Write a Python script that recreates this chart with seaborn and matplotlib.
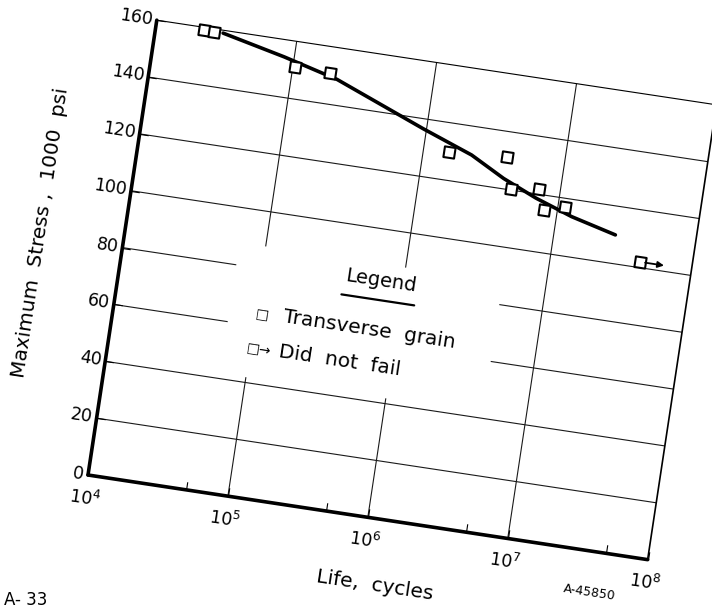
import numpy as np
import pandas as pd
import matplotlib
matplotlib.use("Agg")
import matplotlib.pyplot as plt
import matplotlib.transforms as mtransforms
from matplotlib.scale import LogTransform
from matplotlib.markers import MarkerStyle
import seaborn as sns
import mpl_toolkits.axisartist.floating_axes as floating_axes
from mpl_toolkits.axisartist.grid_finder import FixedLocator, DictFormatter

# ---------------- data ----------------
failed_life = [2.2e4, 2.6e4, 1.03e5, 1.84e5, 1.51e6, 3.9e6, 4.5e6, 7.1e6, 8.1e6, 1.12e7]
failed_stress = [159, 159, 151, 151, 130, 131, 120.5, 122, 115, 117]
runout_life = [4.3e7]
runout_stress = [102]
curve_life = [3.0e4, 8.5e4, 2.1e5, 9.5e5, 2.2e6, 3.9e6, 6.9e6, 1.28e7, 2.7e7]
curve_stress = [159, 154, 149, 136.5, 130, 123.6, 118.5, 114, 110]
x_major = [1e4, 1e5, 1e6, 1e7, 1e8]
x_minor = [5e4, 5e5, 5e6, 5e7]
x_labels = [r"$10^{4}$", r"$10^{5}$", r"$10^{6}$", r"$10^{7}$", r"$10^{8}$"]
y_ticks = [0, 20, 40, 60, 80, 100, 120, 140, 160]
y_labels = [str(v) for v in y_ticks]

# ---------------- style ----------------
sns.set_style("white")
plt.rcParams["font.family"] = ["DejaVu Sans"]
plt.rcParams["mathtext.fontset"] = "dejavusans"
for key in ["text.color", "axes.labelcolor", "xtick.color", "ytick.color"]:
    plt.rcParams[key] = "black"

W, H = 712, 611
ANGLE = -8.6                 # the scanned chart is tilted clockwise
PX_PER_DECADE = 141.5
PX_PER_UNIT = 460.0 / 160.0
ORIGIN = (88.0, 475.0)       # pixel position of (1e4, 0), image coords

# frame coordinates: decades of life (log10) and stress
x_major_dec = np.log10(x_major)
x_all_dec = np.sort(np.log10(x_major + x_minor))
tr_grid = (mtransforms.Affine2D().translate(-x_major_dec[0], 0)
           .scale(PX_PER_DECADE, PX_PER_UNIT).rotate_deg(ANGLE))
# data coordinates: life in cycles (log scale) and stress
tr_data = (mtransforms.blended_transform_factory(LogTransform(10),
                                                 mtransforms.IdentityTransform())
           + tr_grid)

grid_helper = floating_axes.GridHelperCurveLinear(
    tr_grid, extremes=(x_major_dec[0], x_major_dec[-1], y_ticks[0], y_ticks[-1]),
    grid_locator1=FixedLocator(list(x_all_dec)),
    tick_formatter1=DictFormatter(dict(zip(x_major_dec, x_labels))),
    grid_locator2=FixedLocator(y_ticks),
    tick_formatter2=DictFormatter(dict(zip(y_ticks, y_labels))),
)

# axes rectangle: bounding box of the rotated frame, expanded 2 % like FloatingAxes does
a = np.deg2rad(-ANGLE)
xlen = 4 * PX_PER_DECADE
ylen = 160 * PX_PER_UNIT
bw = xlen * np.cos(a) + ylen * np.sin(a)
bh = ylen * np.cos(a) + xlen * np.sin(a)
top_px = ORIGIN[1] - ylen * np.cos(a)
cx = ORIGIN[0] + bw / 2
cy = top_px + bh / 2
bw2, bh2 = bw * 1.02, bh * 1.02
rect = [(cx - bw2 / 2) / W, (H - (cy + bh2 / 2)) / H, bw2 / W, bh2 / H]

fig = plt.figure(figsize=(W / 100, H / 100), dpi=100)
ax = fig.add_axes(rect, axes_class=floating_axes.FloatingAxes, grid_helper=grid_helper)
aux = ax.get_aux_axes(tr_data)

# axis lines
for side, lw in [("left", 2.6), ("bottom", 2.6), ("top", 0.8), ("right", 1.2)]:
    ax.axis[side].line.set_linewidth(lw)
    ax.axis[side].line.set_color("black")
ax.axis["top"].toggle(ticklabels=False, ticks=False)
ax.axis["right"].toggle(ticklabels=False, ticks=False)
for side in ["left", "bottom"]:
    ax.axis[side].major_ticks.set_ticksize(6)
    ax.axis[side].major_ticks.set_linewidth(1.2)
    ax.axis[side].major_ticks.set_color("black")
    ax.axis[side].major_ticklabels.set_fontsize(12.5)
    ax.axis[side].major_ticklabels.set_color("black")
ax.axis["left"].major_ticklabels.set_pad(3)
ax.axis["bottom"].major_ticklabels.set_pad(8)

# grid
grid_kw = dict(colors="#1a1a1a", linewidth=0.8, zorder=1)
aux.hlines(y_ticks[1:-1], x_major[0], x_major[-1], **grid_kw)
aux.vlines(x_major[1:-1], y_ticks[0], y_ticks[-1], **grid_kw)

# blank area behind the legend
aux.fill_between([10 ** 4.81, 10 ** 6.69], 42, 88, color="white", linewidth=0, zorder=1.5)

# S-N curve and points
sns.lineplot(x=curve_life, y=curve_stress, ax=aux, color="black", linewidth=2.6,
             estimator=None, sort=False, zorder=3)
sq = MarkerStyle("s", transform=mtransforms.Affine2D().rotate_deg(ANGLE))
sns.scatterplot(x=failed_life, y=failed_stress, ax=aux, marker=sq, s=60,
                color="white", edgecolor="black", linewidth=1.5, zorder=4, legend=False)
sns.scatterplot(x=runout_life, y=runout_stress, ax=aux, marker=sq, s=60,
                color="white", edgecolor="black", linewidth=1.5, zorder=4, legend=False)
for xl, yl in zip(runout_life, runout_stress):
    aux.annotate("", xy=(xl * 10 ** 0.17, yl), xytext=(xl * 10 ** 0.035, yl),
                 arrowprops=dict(arrowstyle="-|>", lw=1.3, color="black",
                                 mutation_scale=9, shrinkA=0, shrinkB=0), zorder=4)

# legend (tilted like the rest of the scan)
txt = dict(rotation=ANGLE, rotation_mode="anchor", color="black", zorder=5)
aux.text(10 ** 5.845, 82, "Legend", fontsize=14, ha="center", va="center", **txt)
aux.plot([10 ** 5.58, 10 ** 6.10], [75.3, 75.3], color="black", linewidth=1.6, zorder=5)
aux.text(10 ** 5.0, 64.5, "□", fontsize=10, ha="left", va="center", **txt)
aux.text(10 ** 5.2, 64.5, "Transverse  grain", fontsize=14.5, ha="left", va="center", **txt)
aux.text(10 ** 4.97, 52.2, "□→", fontsize=10, ha="left", va="center", **txt)
aux.text(10 ** 5.2, 52.2, "Did  not  fail", fontsize=14.5, ha="left", va="center", **txt)

# axis titles
aux.text(10 ** 3.41, 81, "Maximum  Stress ,  1000  psi", fontsize=14.5, ha="center",
         va="center", rotation=90 + ANGLE, rotation_mode="anchor", color="black")
aux.text(10 ** 6.12, -23, "Life,  cycles", fontsize=14.5, ha="center", va="center", **txt)
aux.text(10 ** 7.63, -14.4, "A-45850", fontsize=9, ha="center", va="center", **txt)
fig.text(4 / W, 2 / H, "A- 33", fontsize=12, ha="left", va="bottom", color="black")

fig.savefig("out.png", dpi=100, facecolor="white")
